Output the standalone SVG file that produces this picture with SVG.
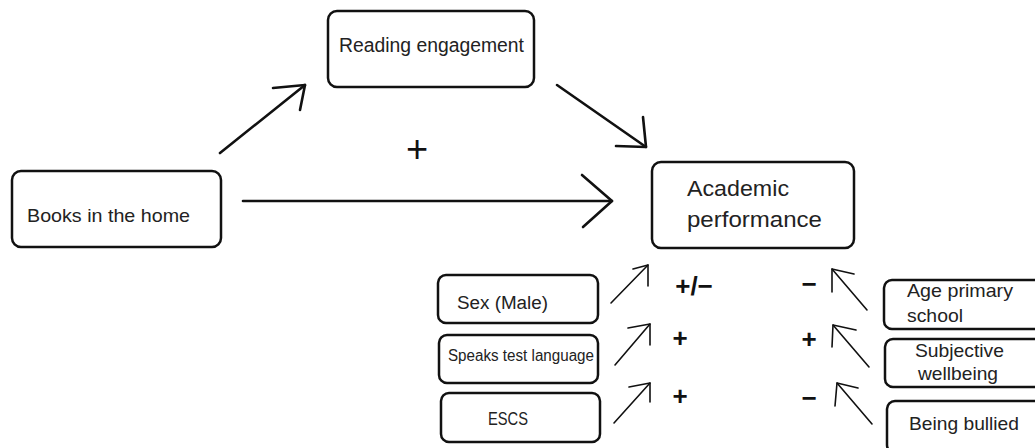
<svg xmlns="http://www.w3.org/2000/svg" width="1035" height="448" viewBox="0 0 1035 448">
<style>
.box{fill:#fff;stroke:#111;stroke-width:2.5}
.lbl{font-family:"Liberation Sans",Arial,sans-serif;fill:#222}
.big{stroke:#111;stroke-width:2.6;fill:none;stroke-linecap:round;stroke-linejoin:round}
.sm{stroke:#111;stroke-width:1.6;fill:none;stroke-linecap:round;stroke-linejoin:round}
.sign{font-family:"Liberation Sans",Arial,sans-serif;font-weight:bold;fill:#111;text-anchor:middle}
</style>
<rect width="1035" height="448" fill="#fff"/>
<g id="books">
<rect class="box" x="12" y="171" width="209" height="76" rx="9"/>
<text class="lbl" x="27" y="222" font-size="19" textLength="163" lengthAdjust="spacingAndGlyphs">Books in the home</text>
</g>
<g id="reading">
<rect class="box" x="328" y="11" width="206" height="76" rx="9"/>
<text class="lbl" x="339" y="52" font-size="19.5" textLength="185" lengthAdjust="spacingAndGlyphs">Reading engagement</text>
</g>
<g id="academic">
<rect class="box" x="652" y="162" width="202" height="86" rx="9"/>
<text class="lbl" x="687" y="196" font-size="22.5" textLength="102" lengthAdjust="spacingAndGlyphs">Academic</text>
<text class="lbl" x="687" y="227" font-size="22.5" textLength="135" lengthAdjust="spacingAndGlyphs">performance</text>
</g>
<g id="sex">
<rect class="box" x="438" y="275" width="160" height="48" rx="8"/>
<text class="lbl" x="457" y="309" font-size="18" textLength="91" lengthAdjust="spacingAndGlyphs">Sex (Male)</text>
</g>
<g id="speaks">
<rect class="box" x="439" y="335" width="159" height="48" rx="8"/>
<text class="lbl" x="448" y="361" font-size="16" textLength="146" lengthAdjust="spacingAndGlyphs">Speaks test language</text>
</g>
<g id="escs">
<rect class="box" x="441" y="393" width="159" height="49" rx="8"/>
<text class="lbl" x="488" y="425" font-size="18" textLength="40" lengthAdjust="spacingAndGlyphs">ESCS</text>
</g>
<g id="age">
<rect class="box" x="884" y="280" width="170" height="49" rx="8"/>
<text class="lbl" x="907" y="297" font-size="18.5" textLength="106" lengthAdjust="spacingAndGlyphs">Age primary</text>
<text class="lbl" x="907" y="322" font-size="18.5" textLength="56" lengthAdjust="spacingAndGlyphs">school</text>
</g>
<g id="wellbeing">
<rect class="box" x="885" y="339" width="170" height="48" rx="8"/>
<text class="lbl" x="915" y="357" font-size="18.5" textLength="89" lengthAdjust="spacingAndGlyphs">Subjective</text>
<text class="lbl" x="918" y="380" font-size="18.5" textLength="80" lengthAdjust="spacingAndGlyphs">wellbeing</text>
</g>
<g id="bullied">
<rect class="box" x="887" y="401" width="170" height="52" rx="8"/>
<text class="lbl" x="909" y="430" font-size="18.5" textLength="110" lengthAdjust="spacingAndGlyphs">Being bullied</text>
</g>
<g id="connectors">
<line class="big" x1="220" y1="153" x2="305" y2="85"/>
<polyline class="big" points="273,88 305,85 300,110"/>
<line class="big" x1="557" y1="85" x2="646" y2="147"/>
<polyline class="big" points="643,117 646,147 616,146"/>
<line class="big" x1="243" y1="201" x2="612" y2="201"/>
<polyline class="big" points="582,175 612,201 583,227"/>
<line class="sm" x1="611" y1="303" x2="648" y2="265"/>
<polyline class="sm" points="633,269 648,265 648,286"/>
<line class="sm" x1="615" y1="365" x2="650" y2="324"/>
<polyline class="sm" points="628,328 650,324 650,345"/>
<line class="sm" x1="614" y1="423" x2="650" y2="383"/>
<polyline class="sm" points="629,387 650,383 650,402"/>
<line class="sm" x1="867" y1="310" x2="832" y2="269"/>
<polyline class="sm" points="854,274 832,269 832,292"/>
<line class="sm" x1="869" y1="367" x2="833" y2="325"/>
<polyline class="sm" points="856,330 833,325 832,347"/>
<line class="sm" x1="872" y1="424" x2="837" y2="383"/>
<polyline class="sm" points="858,388 837,383 835,406"/>
</g>
<g id="signs">
<text class="sign" x="417" y="162" font-size="38" font-weight="normal" style="font-weight:normal">+</text>
<text class="sign" x="694" y="295" font-size="26">+/−</text>
<text class="sign" x="680" y="347" font-size="26">+</text>
<text class="sign" x="680" y="405" font-size="26">+</text>
<text class="sign" x="809" y="293" font-size="26">−</text>
<text class="sign" x="809" y="348" font-size="26">+</text>
<text class="sign" x="809" y="407" font-size="26">−</text>
</g>
</svg>
